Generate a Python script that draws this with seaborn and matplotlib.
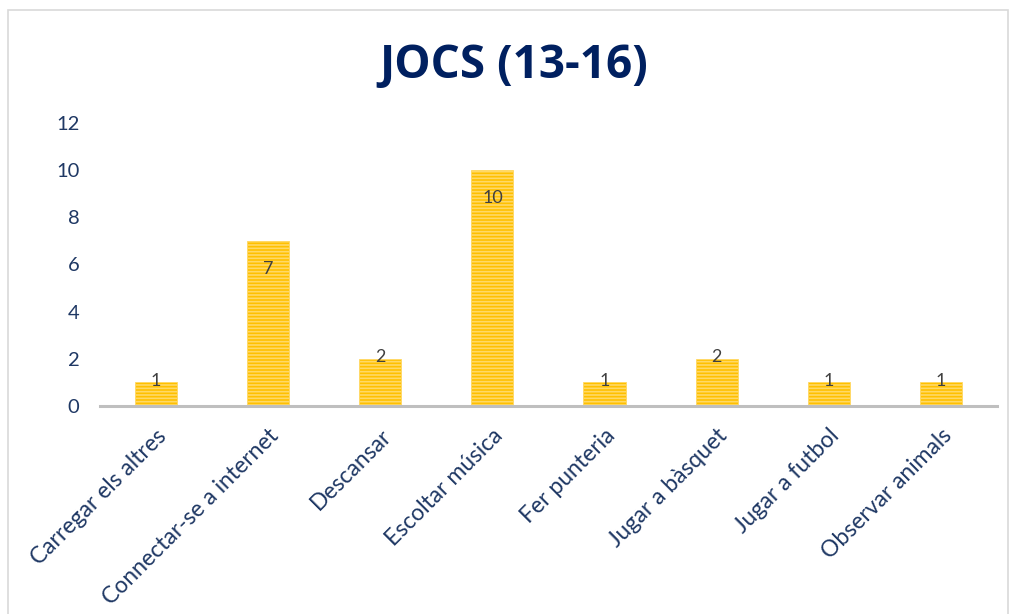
import pandas as pd
import seaborn as sb
import matplotlib.pyplot as plt
from matplotlib.patches import Rectangle

categories = ['Carregar els altres', 'Connectar-se a internet', 'Descansar',
              'Escoltar música', 'Fer punteria', 'Jugar a bàsquet',
              'Jugar a futbol', 'Observar animals']
values = [1, 7, 2, 10, 1, 2, 1, 1]
yticks = [0, 2, 4, 6, 8, 10, 12]

navy = '#1F3864'
df = pd.DataFrame({'cat': categories, 'val': values})

sb.set_style('white')
plt.rcParams['font.family'] = ['Lato', 'DejaVu Sans']
plt.rcParams['hatch.color'] = '#FFE699'
plt.rcParams['hatch.linewidth'] = 1.2

fig = plt.figure(figsize=(10.11, 6.14), dpi=100)
ax = fig.add_axes([0.099, 0.339, 0.887, 0.461])
sb.barplot(data=df, x='cat', y='val', color='#FFC000', width=0.375,
           saturation=1, ax=ax)

for p, v in zip(ax.patches, values):
    p.set_hatch('-----')
    p.set_edgecolor('#FFD966')
    p.set_linewidth(0.6)
    dy = -20 if v >= 5 else 1
    ax.annotate(str(v), (p.get_x() + p.get_width() / 2, v),
                xytext=(0, dy), textcoords='offset points',
                ha='center', va='center', fontsize=13, color='#404040')

ax.set_ylim(0, 12)
ax.set_xlim(-0.5, len(categories) - 0.5)
ax.set_yticks(yticks)
ax.set_xlabel('')
ax.set_ylabel('')
ax.tick_params(axis='y', labelsize=14.5, labelcolor=navy, length=0, pad=15)
ax.tick_params(axis='x', labelsize=16.5, labelcolor=navy, length=0, pad=14)
plt.setp(ax.get_xticklabels(), rotation=45, ha='right', rotation_mode='anchor')
for s in ['top', 'right', 'left']:
    ax.spines[s].set_visible(False)
ax.spines['bottom'].set_color('#BFBFBF')
ax.spines['bottom'].set_linewidth(2.2)

fig.text(0.508, 0.893, 'JOCS (13-16)', ha='center', va='center',
         fontsize=33, fontweight='bold', color='#002060',
         family=['Open Sans', 'DejaVu Sans'])

fig.patches.append(Rectangle((8 / 1011, -0.05), 1000 / 1011, 1.05 - 10 / 614,
                             transform=fig.transFigure, fill=False,
                             edgecolor='#D9D9D9', linewidth=1.2))

fig.savefig('out.png', dpi=100)
